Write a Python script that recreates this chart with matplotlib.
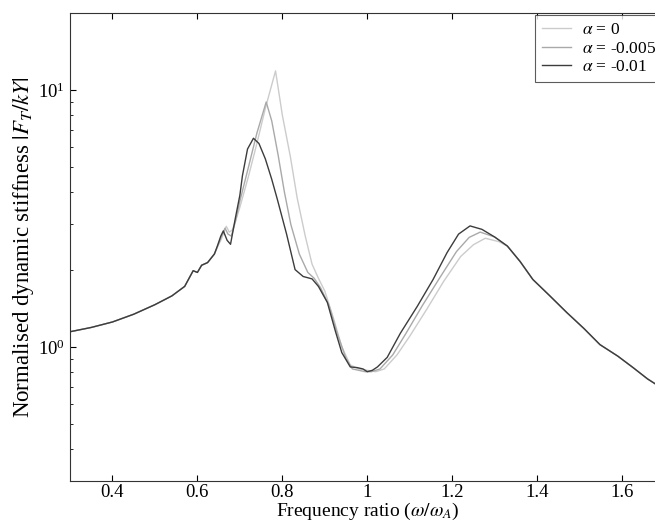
import numpy as np
import matplotlib.pyplot as plt
from matplotlib import ticker

plt.rcParams['font.family'] = 'serif'
plt.rcParams['font.serif'] = ['Liberation Serif', 'DejaVu Serif']
plt.rcParams['mathtext.fontset'] = 'stix'

# shared low-frequency part (all three curves coincide here)
x_low = [0.30, 0.35, 0.40, 0.45, 0.50, 0.54, 0.57, 0.59, 0.60, 0.61, 0.624, 0.64]
y_low = [1.145, 1.19, 1.25, 1.34, 1.46, 1.58, 1.72, 1.98, 1.95, 2.08, 2.13, 2.30]

# shared high-frequency tail
x_tail = [1.36, 1.39, 1.43, 1.47, 1.51, 1.548, 1.59, 1.626, 1.66, 1.70]
y_tail = [2.15, 1.83, 1.58, 1.36, 1.18, 1.02, 0.92, 0.83, 0.75, 0.68]

# alpha = 0
x_a0 = [0.647, 0.655, 0.668, 0.675, 0.682, 0.69, 0.70, 0.72, 0.74, 0.76, 0.784,
        0.80, 0.819, 0.835, 0.854, 0.87, 0.885, 0.90, 0.92, 0.94, 0.96, 0.98,
        1.00, 1.02, 1.04, 1.07, 1.10, 1.14, 1.18, 1.22, 1.25, 1.278, 1.31, 1.33]
y_a0 = [2.45, 2.60, 2.95, 2.80, 2.85, 3.10, 3.50, 4.60, 6.20, 8.50, 11.9,
        8.00, 5.50, 3.80, 2.70, 2.10, 1.85, 1.65, 1.30, 1.00, 0.85, 0.82,
        0.81, 0.80, 0.82, 0.93, 1.10, 1.40, 1.80, 2.25, 2.50, 2.65, 2.57, 2.47]

# alpha = -0.005
x_a1 = [0.647, 0.655, 0.665, 0.672, 0.68, 0.69, 0.70, 0.72, 0.74, 0.762,
        0.775, 0.79, 0.805, 0.82, 0.84, 0.86, 0.875, 0.89, 0.91, 0.93, 0.95,
        0.965, 0.98, 0.995, 1.01, 1.03, 1.06, 1.09, 1.13, 1.17, 1.21, 1.24,
        1.266, 1.30, 1.33]
y_a1 = [2.45, 2.65, 2.90, 2.75, 2.70, 3.10, 3.70, 5.00, 6.80, 9.00,
        7.60, 5.60, 4.00, 3.00, 2.30, 1.95, 1.85, 1.70, 1.45, 1.12, 0.90,
        0.82, 0.81, 0.80, 0.80, 0.82, 0.93, 1.12, 1.45, 1.85, 2.35, 2.67,
        2.80, 2.68, 2.47]

# alpha = -0.01
x_a2 = [0.647, 0.655, 0.661, 0.67, 0.678, 0.689, 0.70, 0.706, 0.718, 0.732,
        0.745, 0.76, 0.775, 0.788, 0.81, 0.83, 0.849, 0.87, 0.885, 0.906,
        0.925, 0.94, 0.96, 0.976, 0.99, 1.00, 1.012, 1.024, 1.047, 1.078,
        1.118, 1.155, 1.188, 1.215, 1.242, 1.27, 1.30, 1.33]
y_a2 = [2.47, 2.70, 2.83, 2.60, 2.51, 3.15, 3.90, 4.64, 5.90, 6.50,
        6.20, 5.40, 4.50, 3.77, 2.75, 2.00, 1.88, 1.84, 1.72, 1.49,
        1.15, 0.95, 0.835, 0.83, 0.82, 0.80, 0.81, 0.835, 0.91, 1.13,
        1.44, 1.83, 2.33, 2.75, 2.96, 2.87, 2.68, 2.47]

labels = [r'$\alpha$ = 0', r'$\alpha$ = -0.005', r'$\alpha$ = -0.01']
colors = ['#cccccc', '#a9a9a9', '#3c3c3c']

fig = plt.figure(figsize=(6.55, 5.27), dpi=100)
ax = fig.add_axes([0.1069, 0.0873, 0.9076, 0.888])

series = [(x_a0, y_a0), (x_a1, y_a1), (x_a2, y_a2)]
for (xs, ys), lab, c in zip(series, labels, colors):
    x_all = np.concatenate([x_low, xs, x_tail])
    y_all = np.concatenate([y_low, ys, y_tail])
    ax.plot(x_all, y_all, color=c, linewidth=1.0, label=lab)

ax.set_yscale('log')
ax.set_xlim(0.3, 1.7)
ax.set_ylim(0.3, 20)
ax.set_xticks([0.4, 0.6, 0.8, 1.0, 1.2, 1.4, 1.6])
ax.xaxis.set_major_formatter(ticker.FormatStrFormatter('%g'))
ax.tick_params(which='both', direction='in', top=True, right=True, labelsize=13.5)
ax.tick_params(which='major', length=4, pad=4)
ax.tick_params(axis='x', which='major', pad=2.5)
ax.tick_params(which='minor', length=2)
ax.yaxis.set_minor_formatter(ticker.NullFormatter())
for s in ax.spines.values():
    s.set_linewidth(0.8)
    s.set_color('#333333')

ax.set_xlabel(r'Frequency ratio ($\omega/\omega_A$)', fontsize=14, labelpad=-0.5)
ax.set_ylabel(r'Normalised dynamic stiffness $|F_T/kY|$', fontsize=16.5, labelpad=1)

leg = ax.legend(loc='upper right', fontsize=12.5, fancybox=False, edgecolor='#333333',
                handlelength=1.7, handletextpad=0.6, borderaxespad=0.1,
                labelspacing=0.15, borderpad=0.4)
leg.get_frame().set_linewidth(0.8)

fig.savefig('out.png', dpi=100)
